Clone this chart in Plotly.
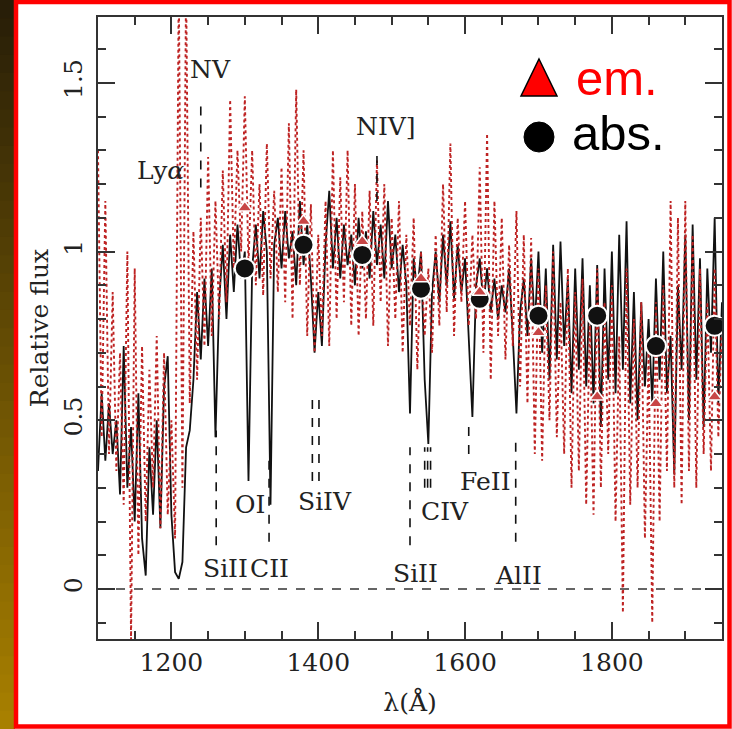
import plotly.graph_objects as go

# ---------------- data ----------------
wavelength = list(range(1100, 1951, 5))

flux_abs = [
    0.35, 0.58, 0.38, 0.55, 0.40, 0.50, 0.28, 0.72, 0.30, 0.48,
    0.20, 0.58, 0.15, 0.04, 0.42, 0.22, 0.50, 0.18, 0.60, 0.69,
    0.22, 0.05, 0.03, 0.08, 0.42, 0.47, 0.62, 0.88, 0.68, 0.92,
    0.72, 0.95, 0.45, 0.85, 1.02, 0.80, 1.05, 0.88, 1.08, 0.92,
    1.00, 0.32, 0.95, 1.08, 0.92, 1.12, 1.00, 0.25, 1.02, 1.10,
    0.95, 1.12, 0.98, 1.06, 0.90, 1.15, 0.96, 1.08, 0.92, 0.70,
    0.88, 0.72, 1.02, 1.18, 0.95, 1.10, 0.92, 1.08, 0.96, 1.05,
    0.90, 1.10, 0.95, 1.06, 0.92, 1.12, 0.96, 1.08, 0.92, 1.15,
    0.95, 1.05, 0.88, 1.02, 0.90, 0.52, 0.98, 0.88, 1.00, 0.62,
    0.43, 0.88, 1.00, 0.85, 1.05, 0.90, 1.09, 0.86, 1.02, 0.88,
    0.98, 0.72, 0.51, 0.90, 0.98, 0.84, 0.95, 0.82, 0.92, 0.80,
    0.90, 0.82, 0.95, 0.75, 0.52, 0.82, 0.92, 0.75, 0.98, 0.78,
    1.00, 0.70, 0.95, 0.62, 1.02, 0.68, 1.03, 0.72, 0.92, 0.58,
    0.95, 0.65, 0.98, 0.60, 0.90, 0.55, 0.96, 0.48, 0.95, 0.62,
    1.00, 0.58, 1.05, 0.65, 1.09, 0.55, 0.88, 0.50, 0.85, 0.60,
    0.80, 0.55, 0.92, 0.62, 1.00, 0.58, 0.75, 0.34, 0.90, 0.65,
    1.05, 0.50, 1.08, 0.62, 0.98, 0.48, 0.95, 0.70, 1.10, 0.55,
    0.85,
]

flux_em = [
    1.30, 0.45, 1.15, 0.40, 0.88, 0.35, 0.70, 0.25, 1.00, -0.15,
    0.95, 0.10, 0.72, 0.20, 0.65, 0.30, 0.75, 0.18, 0.70, 0.22,
    0.50, 0.15, 1.80, 0.30, 1.80, 0.55, 1.06, 0.62, 1.10, 0.72,
    1.28, 0.75, 1.15, 0.80, 1.24, 0.85, 1.45, 0.95, 1.30, 1.00,
    1.46, 0.96, 1.30, 0.90, 1.20, 0.87, 1.32, 0.92, 1.18, 0.88,
    1.25, 0.85, 1.38, 0.80, 1.48, 0.90, 1.30, 0.75, 1.14, 0.70,
    1.05, 0.75, 1.15, 0.72, 1.30, 0.80, 1.22, 0.85, 1.30, 0.78,
    1.20, 0.75, 1.12, 0.80, 1.18, 0.78, 1.27, 0.85, 1.20, 0.72,
    1.10, 0.80, 1.15, 0.70, 1.05, 0.78, 1.10, 0.65, 1.00, 0.75,
    0.95, 0.70, 1.05, 0.78, 1.20, 0.82, 1.32, 0.75, 1.10, 0.85,
    1.15, 0.78, 1.05, 0.80, 1.25, 0.70, 1.35, 0.62, 1.15, 0.75,
    1.10, 0.68, 1.02, 0.72, 1.12, 0.60, 1.05, 0.55, 1.04, 0.40,
    0.95, 0.38, 0.90, 0.50, 1.00, 0.45, 0.85, 0.40, 0.95, 0.30,
    0.88, 0.35, 0.92, 0.25, 0.80, 0.22, 0.95, 0.30, 0.85, 0.40,
    0.90, 0.20, 0.75, -0.07, 0.95, 0.25, 0.80, 0.30, 0.85, 0.15,
    0.70, -0.10, 0.85, 0.20, 0.90, 0.35, 1.15, 0.30, 1.10, 0.25,
    1.15, 0.35, 1.05, 0.30, 0.95, 0.40, 0.85, 0.35, 0.95, 0.45,
    0.80,
]

marker_wave = [1300, 1380, 1460, 1540, 1620, 1700, 1780, 1860, 1940]
marker_em = [1.13, 1.09, 1.03, 0.92, 0.88, 0.76, 0.57, 0.55, 0.57]
marker_abs = [0.95, 1.02, 0.99, 0.89, 0.86, 0.81, 0.81, 0.72, 0.78]

# line identifications: tick wavelengths and extent in flux
tick_wave = [1240, 1480, 1261, 1333, 1392, 1401, 1525, 1545, 1549, 1553, 1605, 1669]
tick_low = [1.19, 1.15, 0.13, 0.14, 0.32, 0.32, 0.13, 0.30, 0.30, 0.30, 0.40, 0.14]
tick_high = [1.45, 1.29, 0.47, 0.40, 0.58, 0.58, 0.42, 0.42, 0.42, 0.42, 0.50, 0.45]

label_text = ["Ly<i>α</i>", "NV", "NIV]", "OI", "SiIV", "CIV", "FeII",
              "SiII", "CII", "SiII", "AlII"]
label_wave = [1185, 1253, 1492, 1307, 1409, 1572, 1628, 1273, 1334, 1532, 1673]
label_flux = [1.24, 1.54, 1.37, 0.25, 0.26, 0.23, 0.32, 0.06, 0.06, 0.045, 0.04]

x_ticks = [1200, 1400, 1600, 1800]
y_ticks = [0, 0.5, 1, 1.5]
y_ticklabels = ["0", "0.5", "1", "1.5"]

# ---------------- layout helpers ----------------
W, H = 732, 729
L, R, T, B = 98, 722, 17, 639


def px(x):
    return (x - L) / (R - L)


def py(y):
    return (B - y) / (B - T)


SERIF = "DejaVu Serif"

fig = go.Figure()

# spectra
fig.add_trace(go.Scatter(x=wavelength, y=flux_abs, mode="lines",
                         line=dict(color="#111111", width=1.8),
                         hoverinfo="skip"))
fig.add_trace(go.Scatter(x=wavelength, y=flux_em, mode="lines",
                         line=dict(color="rgb(190,35,35)", width=1.9, dash="dot"),
                         hoverinfo="skip"))

# zero line
fig.add_trace(go.Scatter(x=[wavelength[0], wavelength[-1]], y=[0, 0], mode="lines",
                         line=dict(color="#333333", width=1.5, dash="dash"),
                         hoverinfo="skip"))

# line-identification ticks
tx, ty = [], []
for w, lo, hi in zip(tick_wave, tick_low, tick_high):
    tx += [w, w, None]
    ty += [lo, hi, None]
fig.add_trace(go.Scatter(x=tx, y=ty, mode="lines",
                         line=dict(color="#111111", width=1.6, dash="dash"),
                         hoverinfo="skip"))

# markers
fig.add_trace(go.Scatter(x=marker_wave, y=marker_abs, mode="markers",
                         marker=dict(symbol="circle", size=20, color="#111111",
                                     line=dict(color="white", width=2)),
                         hoverinfo="skip"))
fig.add_trace(go.Scatter(x=marker_wave, y=marker_em, mode="markers",
                         marker=dict(symbol="triangle-up", size=13, color="rgb(200,70,70)",
                                     line=dict(color="white", width=1.5)),
                         hoverinfo="skip"))

# line labels
for t, w, f in zip(label_text, label_wave, label_flux):
    fig.add_annotation(x=w, y=f, text=t, showarrow=False,
                       font=dict(family=SERIF, size=25, color="#222222"),
                       xanchor="center", yanchor="middle")

shapes = []
# left gradient strip
n = 40
for i in range(n):
    fr = i / (n - 1)
    r = int(40 + (168 - 40) * fr)
    g = int(30 + (128 - 30) * fr)
    b = int(8 - 8 * fr)
    shapes.append(dict(type="rect", xref="paper", yref="paper",
                       x0=px(0), x1=px(15), y0=py(i * H / n), y1=py((i + 1) * H / n + 1),
                       fillcolor=f"rgb({r},{g},{b})", line=dict(width=0),
                       layer="below"))
# red frame
shapes.append(dict(type="rect", xref="paper", yref="paper",
                   x0=px(16), x1=px(729.5), y0=py(726.5), y1=py(2),
                   line=dict(color="#ff0000", width=4.5), fillcolor="rgba(0,0,0,0)"))
# legend symbols
tri = f"M {px(539)},{py(59)} L {px(557)},{py(96)} L {px(521)},{py(96)} Z"
shapes.append(dict(type="path", xref="paper", yref="paper", path=tri,
                   fillcolor="#ff0000", line=dict(color="#000000", width=1.5)))
shapes.append(dict(type="circle", xref="paper", yref="paper",
                   x0=px(524), x1=px(554), y0=py(152), y1=py(122),
                   fillcolor="#000000", line=dict(color="#000000", width=1)))

fig.add_annotation(xref="paper", yref="paper", x=px(574), y=py(78), text="em.",
                   showarrow=False, xanchor="left", yanchor="middle",
                   font=dict(family="Liberation Sans, Arial", size=49, color="#ff0000"))
fig.add_annotation(xref="paper", yref="paper", x=px(570), y=py(133), text="abs.",
                   showarrow=False, xanchor="left", yanchor="middle",
                   font=dict(family="Liberation Sans, Arial", size=49, color="#000000"))

axis_common = dict(showline=True, linecolor="#333333", linewidth=1.5, mirror="allticks",
                   ticks="inside", tickcolor="#333333", tickwidth=1.5, ticklen=17,
                   showgrid=False, zeroline=False, automargin=False,
                   tickfont=dict(family=SERIF, size=25, color="#222222"))

fig.update_layout(
    width=W, height=H,
    margin=dict(l=L, r=W - R, t=T, b=H - B, autoexpand=False),
    paper_bgcolor="white", plot_bgcolor="white",
    showlegend=False,
    shapes=shapes,
    xaxis=dict(range=[1100, 1950], tickvals=x_ticks,
               minor=dict(dtick=50, ticks="inside", ticklen=8, tickcolor="#333333", tickwidth=1.5),
               title=dict(text="λ(Å)", font=dict(family=SERIF, size=25, color="#222222"), standoff=18),
               **axis_common),
    yaxis=dict(range=[-0.148, 1.695], tickvals=y_ticks, ticktext=y_ticklabels, tickangle=-90,
               minor=dict(dtick=0.1, ticks="inside", ticklen=8, tickcolor="#333333", tickwidth=1.5),
               title=dict(text="Relative flux", font=dict(family=SERIF, size=25, color="#222222"), standoff=4),
               ticklabelstandoff=4,
               **axis_common),
)

fig.write_html("out.html", config={"displayModeBar": False},
               post_script="document.body.style.margin='0px';document.body.style.overflow='hidden';")
